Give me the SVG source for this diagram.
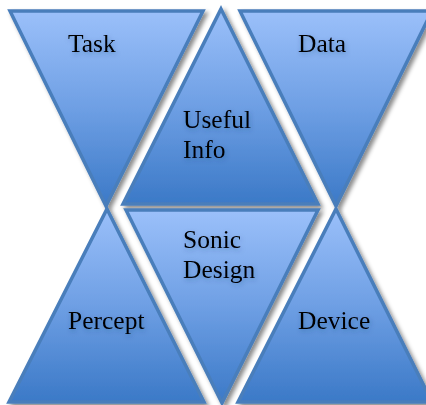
<svg xmlns="http://www.w3.org/2000/svg" width="426" height="405" viewBox="0 0 426 405">
  <defs>
    <linearGradient id="g" x1="0" y1="0" x2="0" y2="1">
      <stop offset="0" stop-color="#9BC0FA"/>
      <stop offset="0.5" stop-color="#6E9FE4"/>
      <stop offset="1" stop-color="#3B79C7"/>
    </linearGradient>
    <filter id="sh" x="-10%" y="-10%" width="130%" height="130%">
      <feDropShadow dx="3" dy="3" stdDeviation="2" flood-color="#000" flood-opacity="0.45"/>
    </filter>
    <filter id="tsh" x="-20%" y="-40%" width="140%" height="180%">
      <feDropShadow dx="1" dy="2" stdDeviation="2.5" flood-color="#1E3C66" flood-opacity="0.35"/>
    </filter>
  </defs>
  <style>
    .tri { fill: url(#g); stroke: #4A7EBB; stroke-width: 3.5; stroke-linejoin: miter; filter: url(#sh); }
    .lbl { font-family: "Liberation Serif", "Times New Roman", serif; font-size: 25.5px; fill: #000; filter: url(#tsh); }
  </style>
  <rect width="426" height="405" fill="#fff"/>
  <g id="task">
    <polygon class="tri" points="10,11 203,11 106,206"/>
    <text class="lbl" x="68" y="52">Task</text>
  </g>
  <g id="data">
    <polygon class="tri" points="240,11 432,11 336,206"/>
    <text class="lbl" x="298" y="52">Data</text>
  </g>
  <g id="useful-info">
    <polygon class="tri" points="221,9 318,204 123,204"/>
    <text class="lbl" x="183" y="128">Useful</text>
    <text class="lbl" x="183" y="158">Info</text>
  </g>
  <g id="percept">
    <polygon class="tri" points="107,209 204,402 9,402"/>
    <text class="lbl" x="68" y="329">Percept</text>
  </g>
  <g id="sonic-design">
    <polygon class="tri" points="126,210 318,210 222,403"/>
    <text class="lbl" x="183" y="248">Sonic</text>
    <text class="lbl" x="183" y="278">Design</text>
  </g>
  <g id="device">
    <polygon class="tri" points="336,209 432,402 238,402"/>
    <text class="lbl" x="298" y="329">Device</text>
  </g>
  <g id="connectors"/>
</svg>
